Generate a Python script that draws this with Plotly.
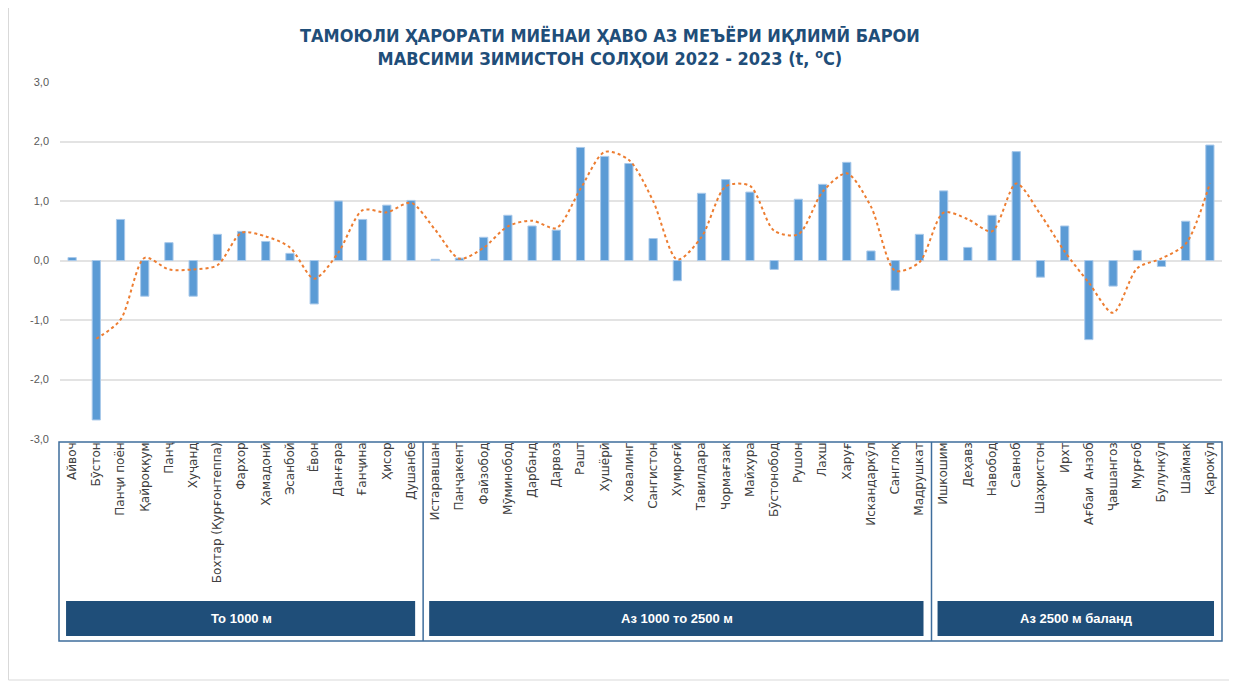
import plotly.graph_objects as go

stations_low = ["Айвоч", "Бӯстон", "Панҷи поён", "Қайроққум", "Панҷ", "Хуҷанд",
                "Бохтар (Қурғонтеппа)", "Фархор", "Ҳамадонӣ", "Эсанбой", "Ёвон",
                "Данғара", "Ғанҷина", "Ҳисор", "Душанбе"]
values_low = [0.05, -2.68, 0.69, -0.60, 0.30, -0.60, 0.44, 0.49, 0.32, 0.12, -0.73,
              1.00, 0.69, 0.93, 1.01]

stations_mid = ["Истаравшан", "Панҷакент", "Файзобод", "Мӯминобод", "Дарбанд", "Дарвоз",
                "Рашт", "Хушёрӣ", "Ховалинг", "Сангистон", "Хумроғӣ", "Тавилдара",
                "Чормағзак", "Майхура", "Бӯстонобод", "Рушон", "Лахш", "Харуғ",
                "Искандаркӯл", "Санглоқ", "Мадрушкат"]
values_mid = [0.02, 0.04, 0.39, 0.76, 0.58, 0.51, 1.90, 1.75, 1.63, 0.37, -0.34, 1.13,
              1.36, 1.15, -0.15, 1.03, 1.28, 1.65, 0.16, -0.50, 0.44]

stations_high = ["Ишкошим", "Деҳавз", "Навобод", "Савноб", "Шаҳристон", "Ирхт",
                 "Ағбаи  Анзоб", "Ҷавшангоз", "Мурғоб", "Булункӯл", "Шаймак", "Қарокӯл"]
values_high = [1.17, 0.22, 0.76, 1.83, -0.28, 0.58, -1.33, -0.43, 0.17, -0.10, 0.66, 1.94]

group_labels = ["То 1000 м", "Аз 1000 то 2500 м", "Аз 2500 м баланд"]
y_ticks = [3, 2, 1, 0, -1, -2, -3]
y_tick_text = ["3,0", "2,0", "1,0", "0,0", "-1,0", "-2,0", "-3,0"]

stations = stations_low + stations_mid + stations_high
values = values_low + values_mid + values_high
xs = list(range(len(stations)))

# 2-period moving average trendline (as in the original chart)
ma_x = xs[1:]
ma_y = [(values[i - 1] + values[i]) / 2 for i in range(1, len(values))]

fig = go.Figure()
fig.add_trace(go.Bar(x=xs, y=values, width=0.34,
                     marker=dict(color="#5B9BD5", line=dict(color="#A9C9EA", width=1)),
                     showlegend=False, hoverinfo="y"))
fig.add_trace(go.Scatter(x=ma_x, y=ma_y, mode="lines",
                         line=dict(color="#ED7D31", width=2, dash="dot", shape="spline", smoothing=0.8),
                         showlegend=False, hoverinfo="skip"))

OFF = 8  # page body margin
W, H = 1229, 674
L, R, T, B = 52, 15, 74, 243
ph = H - T - B
pw = W - L - R

def py(p):
    return (H - B - (p - OFF)) / ph

def px(p):
    return (p - OFF - L) / pw

shapes = []
# outer light border
shapes.append(dict(type="rect", xref="paper", yref="paper", x0=px(8.5), x1=px(1235), y0=py(680), y1=py(-5),
                   line=dict(color="#D9D9D9", width=1), fillcolor="rgba(0,0,0,0)", layer="below"))
# category frame
frame_col = "#3E6D9C"
shapes.append(dict(type="rect", xref="paper", yref="paper", x0=px(59), x1=px(1222), y0=py(641), y1=py(442),
                   line=dict(color=frame_col, width=1.5), fillcolor="rgba(0,0,0,0)"))
n1 = len(stations_low)
n2 = n1 + len(stations_mid)
n3 = n2 + len(stations_high)
for b in [n1 - 0.5, n2 - 0.5]:
    shapes.append(dict(type="line", xref="x", yref="paper", x0=b, x1=b, y0=py(641), y1=py(442),
                       line=dict(color=frame_col, width=1.5)))
groups = [(-0.5, n1 - 0.5), (n1 - 0.5, n2 - 0.5), (n2 - 0.5, n3 - 0.5)]
annotations = []
for (g0, g1), lab in zip(groups, group_labels):
    shapes.append(dict(type="rect", xref="x", yref="paper", x0=g0 + 0.25, x1=g1 - 0.33,
                       y0=py(636), y1=py(601), fillcolor="#1F4E79", line=dict(width=0)))
    annotations.append(dict(x=(g0 + g1) / 2, y=py(618.5), xref="x", yref="paper", text=f"<b>{lab}</b>",
                            showarrow=False, yanchor="middle", xanchor="center",
                            font=dict(color="white", size=13, family="Arial, Liberation Sans")))

annotations.append(dict(x=px(610), y=py(47), xref="paper", yref="paper",
                        text="<b>ТАМОЮЛИ ҲАРОРАТИ МИЁНАИ ҲАВО АЗ МЕЪЁРИ ИҚЛИМӢ БАРОИ<br>"
                             "МАВСИМИ ЗИМИСТОН СОЛҲОИ 2022 - 2023 (t, <sup>o</sup>C)</b>",
                        showarrow=False, align="center", yanchor="middle", xanchor="center",
                        font=dict(color="#1F4E79", size=18,
                                  family="DejaVu Sans Condensed")))

fig.update_layout(
    width=W, height=H,
    margin=dict(l=L, r=R, t=T, b=B),
    paper_bgcolor="white", plot_bgcolor="white",
    shapes=shapes, annotations=annotations,
    xaxis=dict(range=[-0.5, len(stations) - 0.5], tickmode="array", tickvals=xs, ticktext=stations,
               tickangle=-90, showgrid=False, zeroline=False, showline=False, ticks="",
               ticklabelstandoff=0,
               tickfont=dict(size=12, color="#404040", family="DejaVu Sans")),
    yaxis=dict(range=[-3, 3], tickmode="array", tickvals=y_ticks, ticktext=y_tick_text,
               showgrid=True, gridcolor="#E3E3E3", gridwidth=1.5, zeroline=True, zerolinecolor="#E3E3E3",
               zerolinewidth=1.5, showline=False, ticks="", ticklabelstandoff=10,
               tickfont=dict(size=11, color="#595959", family="Arial, Liberation Sans")),
)

fig.write_html("out.html")
